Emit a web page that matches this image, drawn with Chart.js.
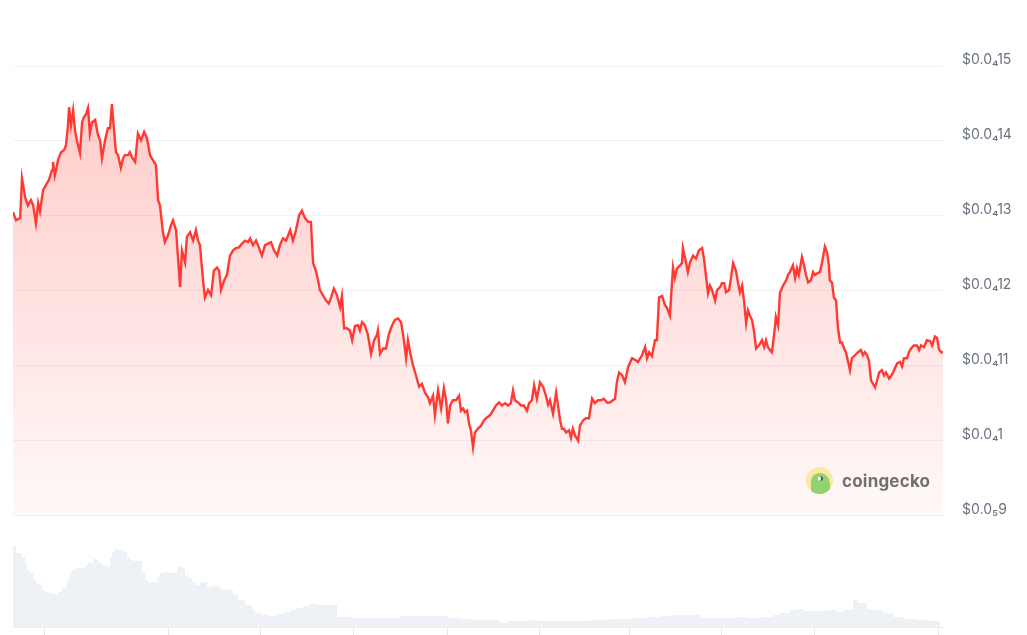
<!DOCTYPE html>
<html>
<head>
<meta charset="utf-8">
<script src="https://cdn.jsdelivr.net/npm/chart.js@4/dist/chart.umd.min.js"></script>
<style>
  body { margin: 0; background: #fff; }
  #wrap { position: relative; width: 1027px; height: 635px; overflow: hidden; }
  #priceChart { position: absolute; left: 0; top: 0; }
  #volChart { position: absolute; left: 0; top: 530px; }
  .logo { position: absolute; left: 806px; top: 467px; display: flex; align-items: center;
          font: 700 17px Inter, "Noto Sans", sans-serif; color: #707070; letter-spacing: 0.2px; }
  .gecko { position: relative; width: 27px; height: 27px; border-radius: 50%; background: #fbe9a3;
           margin-right: 9px; overflow: hidden; }
  .head { position: absolute; left: 5px; top: 6px; width: 19px; height: 24px; background: #8fd46d;
          border-radius: 9px 11px 2px 8px; }
  .eye { position: absolute; left: 12px; top: 9px; width: 5px; height: 5px; border-radius: 50%;
         background: #fff; box-shadow: inset -2px 0 0 #555; }
</style>
</head>
<body>
<div id="wrap">
  <canvas id="priceChart" width="1027" height="543"></canvas>
  <canvas id="volChart" width="1027" height="105"></canvas>
  <div class="logo"><span class="gecko"><span class="head"></span><span class="eye"></span></span>coingecko</div>
</div>
<script>
// price in millionths of a dollar, time in days from the start of the 30 day window
const priceDays = [
  0, 0.10, 0.23, 0.29, 0.39, 0.48, 0.58, 0.65, 0.74, 0.81,
  0.87, 0.97, 1.06, 1.16, 1.26, 1.29, 1.35, 1.45, 1.55, 1.65,
  1.71, 1.77, 1.81, 1.87, 1.94, 2.00, 2.06, 2.16, 2.23, 2.29,
  2.35, 2.42, 2.48, 2.55, 2.65, 2.74, 2.81, 2.87, 2.97, 3.06,
  3.13, 3.19, 3.26, 3.32, 3.39, 3.48, 3.55, 3.61, 3.71, 3.77,
  3.84, 3.94, 4.03, 4.13, 4.23, 4.32, 4.42, 4.52, 4.61, 4.68,
  4.74, 4.84, 4.90, 5.00, 5.10, 5.16, 5.26, 5.32, 5.39, 5.45,
  5.55, 5.61, 5.71, 5.81, 5.90, 5.97, 6.03, 6.13, 6.19, 6.29,
  6.39, 6.48, 6.58, 6.65, 6.71, 6.81, 6.90, 7.00, 7.10, 7.19,
  7.29, 7.39, 7.48, 7.58, 7.65, 7.74, 7.84, 7.90, 8.03, 8.13,
  8.23, 8.32, 8.42, 8.52, 8.61, 8.71, 8.81, 8.94, 9.03, 9.13,
  9.23, 9.32, 9.42, 9.52, 9.61, 9.68, 9.77, 9.84, 9.90, 10.00,
  10.10, 10.19, 10.26, 10.35, 10.45, 10.55, 10.61, 10.68, 10.77, 10.87,
  10.94, 11.03, 11.13, 11.19, 11.26, 11.35, 11.45, 11.55, 11.65, 11.74,
  11.77, 11.84, 11.94, 12.03, 12.13, 12.23, 12.32, 12.42, 12.52, 12.61,
  12.68, 12.74, 12.81, 12.90, 13.00, 13.10, 13.19, 13.29, 13.39, 13.45,
  13.55, 13.61, 13.71, 13.81, 13.90, 13.97, 14.03, 14.10, 14.19, 14.29,
  14.39, 14.45, 14.52, 14.58, 14.65, 14.71, 14.77, 14.84, 14.90, 15.00,
  15.10, 15.19, 15.29, 15.39, 15.48, 15.58, 15.68, 15.77, 15.87, 15.97,
  16.06, 16.13, 16.19, 16.29, 16.39, 16.48, 16.58, 16.65, 16.74, 16.81,
  16.90, 17.00, 17.10, 17.19, 17.26, 17.32, 17.42, 17.52, 17.58, 17.65,
  17.71, 17.77, 17.84, 17.94, 18.00, 18.06, 18.13, 18.23, 18.29, 18.39,
  18.48, 18.58, 18.68, 18.77, 18.87, 18.97, 19.06, 19.16, 19.26, 19.35,
  19.42, 19.48, 19.55, 19.65, 19.74, 19.84, 19.97, 20.10, 20.16, 20.29,
  20.39, 20.45, 20.52, 20.61, 20.71, 20.77, 20.84, 20.94, 21.03, 21.10,
  21.19, 21.29, 21.35, 21.42, 21.52, 21.58, 21.61, 21.71, 21.77, 21.84,
  21.94, 22.03, 22.13, 22.23, 22.29, 22.35, 22.42, 22.48, 22.55, 22.65,
  22.71, 22.81, 22.87, 22.94, 23.00, 23.10, 23.16, 23.23, 23.32, 23.39,
  23.45, 23.52, 23.58, 23.65, 23.71, 23.77, 23.84, 23.90, 23.97, 24.06,
  24.16, 24.23, 24.29, 24.35, 24.42, 24.48, 24.55, 24.61, 24.68, 24.74,
  24.84, 24.94, 25.00, 25.06, 25.16, 25.23, 25.29, 25.35, 25.45, 25.52,
  25.58, 25.65, 25.74, 25.81, 25.87, 25.97, 26.03, 26.10, 26.19, 26.26,
  26.32, 26.35, 26.42, 26.48, 26.55, 26.61, 26.68, 26.74, 26.81, 26.87,
  26.94, 27.00, 27.06, 27.16, 27.26, 27.35, 27.42, 27.48, 27.55, 27.61,
  27.68, 27.74, 27.81, 27.87, 27.94, 28.03, 28.10, 28.16, 28.26, 28.32,
  28.39, 28.45, 28.52, 28.61, 28.68, 28.74, 28.84, 28.90, 28.97, 29.06,
  29.16, 29.23, 29.29, 29.39, 29.48, 29.58, 29.65, 29.74, 29.81, 29.87,
  29.94, 30.00
];
const prices = [
  13.05, 12.94, 12.97, 13.50, 13.25, 13.14, 13.21, 13.14, 12.90, 13.17,
  13.06, 13.34, 13.41, 13.48, 13.61, 13.72, 13.54, 13.74, 13.85, 13.88,
  13.94, 14.19, 14.45, 14.21, 14.41, 14.14, 14.01, 13.84, 14.25, 14.32,
  14.35, 14.44, 14.10, 14.25, 14.28, 14.08, 14.01, 13.77, 14.01, 14.17,
  14.17, 14.49, 14.14, 13.85, 13.81, 13.64, 13.77, 13.81, 13.81, 13.85,
  13.78, 13.72, 14.10, 14.01, 14.12, 14.04, 13.81, 13.74, 13.68, 13.21,
  13.14, 12.77, 12.65, 12.74, 12.88, 12.94, 12.81, 12.46, 12.05, 12.54,
  12.38, 12.72, 12.78, 12.67, 12.81, 12.67, 12.61, 12.14, 11.91, 12.01,
  11.94, 12.27, 12.31, 12.27, 12.01, 12.14, 12.21, 12.47, 12.54, 12.57,
  12.58, 12.63, 12.67, 12.65, 12.70, 12.61, 12.67, 12.61, 12.47, 12.61,
  12.63, 12.65, 12.54, 12.47, 12.61, 12.70, 12.67, 12.81, 12.67, 12.81,
  13.01, 13.07, 12.97, 12.92, 12.92, 12.37, 12.27, 12.14, 12.01, 11.94,
  11.87, 11.83, 11.91, 12.03, 11.94, 11.78, 11.93, 11.50, 11.50, 11.47,
  11.34, 11.53, 11.54, 11.47, 11.58, 11.54, 11.41, 11.16, 11.34, 11.41,
  11.47, 11.16, 11.23, 11.23, 11.43, 11.54, 11.61, 11.63, 11.58, 11.34,
  11.10, 11.34, 11.18, 11.01, 10.87, 10.72, 10.76, 10.64, 10.58, 10.50,
  10.60, 10.34, 10.67, 10.43, 10.70, 10.54, 10.23, 10.47, 10.54, 10.54,
  10.60, 10.40, 10.43, 10.38, 10.40, 10.23, 10.14, 9.91, 10.11, 10.16,
  10.20, 10.27, 10.31, 10.34, 10.40, 10.47, 10.51, 10.47, 10.50, 10.47,
  10.50, 10.67, 10.54, 10.51, 10.47, 10.47, 10.40, 10.50, 10.54, 10.74,
  10.56, 10.78, 10.72, 10.60, 10.48, 10.54, 10.36, 10.64, 10.47, 10.27,
  10.16, 10.16, 10.11, 10.14, 10.04, 10.16, 10.07, 10.00, 10.20, 10.27,
  10.30, 10.30, 10.56, 10.50, 10.54, 10.54, 10.56, 10.51, 10.51, 10.54,
  10.56, 10.78, 10.91, 10.87, 10.78, 10.98, 11.10, 11.07, 11.05, 11.14,
  11.25, 11.10, 11.18, 11.13, 11.34, 11.34, 11.91, 11.93, 11.81, 11.77,
  11.67, 12.31, 12.17, 12.30, 12.34, 12.37, 12.57, 12.38, 12.25, 12.38,
  12.47, 12.43, 12.54, 12.57, 12.43, 12.21, 11.97, 12.07, 12.01, 11.87,
  12.01, 12.05, 12.10, 12.10, 11.98, 12.01, 12.17, 12.37, 12.27, 12.10,
  11.98, 12.07, 11.87, 11.57, 11.74, 11.67, 11.61, 11.47, 11.23, 11.27,
  11.34, 11.25, 11.34, 11.25, 11.21, 11.18, 11.41, 11.65, 11.54, 11.97,
  12.07, 12.14, 12.21, 12.25, 12.34, 12.17, 12.30, 12.21, 12.45, 12.34,
  12.21, 12.11, 12.14, 12.25, 12.21, 12.24, 12.25, 12.38, 12.59, 12.51,
  12.34, 12.14, 12.11, 11.91, 11.87, 11.51, 11.31, 11.31, 11.23, 11.18,
  11.05, 10.94, 11.10, 11.14, 11.18, 11.21, 11.14, 11.18, 11.14, 11.07,
  10.80, 10.76, 10.71, 10.80, 10.91, 10.94, 10.87, 10.91, 10.83, 10.86,
  10.91, 10.97, 11.03, 11.05, 10.99, 11.10, 11.10, 11.18, 11.23, 11.27,
  11.27, 11.21, 11.27, 11.25, 11.34, 11.33, 11.27, 11.39, 11.37, 11.22,
  11.18, 11.18
];
const priceTicks = [9, 10, 11, 12, 13, 14, 15];

// trading volume, relative units
const volumeDays = [
  0.00, 0.10, 0.29, 0.39, 0.45, 0.55, 0.65, 0.74, 0.81, 0.94,
  1.03, 1.13, 1.29, 1.45, 1.58, 1.74, 1.81, 1.90, 2.00, 2.16,
  2.32, 2.42, 2.58, 2.74, 2.87, 3.03, 3.13, 3.19, 3.29, 3.39,
  3.55, 3.68, 3.77, 3.87, 4.16, 4.26, 4.35, 4.48, 4.65, 4.74,
  4.90, 5.06, 5.29, 5.45, 5.55, 5.65, 5.77, 5.87, 6.03, 6.26,
  6.42, 6.68, 6.90, 7.10, 7.26, 7.48, 7.71, 7.81, 8.03, 8.23,
  8.52, 8.71, 8.94, 9.16, 9.35, 9.58, 9.81, 10.45, 10.48, 10.97,
  11.19, 12.48, 13.45, 14.00, 14.42, 14.84, 15.16, 15.71, 15.94, 16.68,
  16.90, 18.61, 19.26, 20.00, 20.45, 20.87, 21.29, 21.58, 22.16, 22.71,
  23.35, 23.68, 24.10, 24.52, 24.74, 25.06, 25.29, 25.48, 25.94, 26.26,
  26.58, 26.77, 27.10, 27.23, 27.55, 27.71, 28.06, 28.39, 28.71, 29.16,
  29.58, 29.90
];
const volumes = [
  84, 81, 74, 70, 64, 57, 54, 47, 44, 42,
  37, 35, 34, 33, 35, 39, 47, 54, 57, 59,
  59, 62, 64, 68, 64, 62, 60, 69, 75, 78,
  77, 75, 69, 67, 66, 54, 47, 44, 45, 50,
  54, 55, 54, 60, 59, 52, 49, 45, 42, 45,
  40, 41, 38, 37, 32, 27, 22, 17, 14, 12,
  11, 13, 15, 17, 19, 21, 23, 22, 11, 10,
  9, 9, 11, 11, 9, 8, 7, 7, 4, 6,
  7, 6, 7, 8, 9, 10, 11, 12, 12, 9,
  9, 10, 9, 10, 12, 14, 17, 18, 16, 16,
  17, 15, 17, 27, 24, 18, 17, 14, 10, 8,
  7, 6
];
const timeTicks = [1, 5, 7.97, 10.97, 14, 16.97, 19.9, 22.87, 25.84, 29.84];

// $0.0₄15 style: count of zeros after "0.0" written as a subscript
function fmtPrice(v) {
  const s = (v * 1e-6).toFixed(12).replace(/0+$/, '');
  const dec = s.split('.')[1];
  const zeros = dec.match(/^0*/)[0].length;
  const sub = '₀₁₂₃₄₅₆₇₈₉';
  return '$0.0' + String(zeros).split('').map(d => sub[d]).join('') + dec.slice(zeros);
}

new Chart(document.getElementById('priceChart'), {
  type: 'line',
  data: {
    datasets: [{
      data: priceDays.map((d, i) => ({ x: d, y: prices[i] })),
      borderColor: '#ff3a33',
      borderWidth: 2.4,
      pointRadius: 0,
      tension: 0,
      fill: 'start',
      backgroundColor: (ctx) => {
        const area = ctx.chart.chartArea;
        if (!area) return 'rgba(255,58,51,0.15)';
        const g = ctx.chart.ctx.createLinearGradient(0, area.top, 0, area.bottom);
        g.addColorStop(0, 'rgba(255,58,51,0.28)');
        g.addColorStop(1, 'rgba(255,58,51,0.03)');
        return g;
      }
    }]
  },
  options: {
    responsive: false,
    animation: false,
    layout: { padding: { left: 13, top: 66, bottom: 2 } },
    plugins: { legend: { display: false }, tooltip: { enabled: false } },
    scales: {
      x: { type: 'linear', min: 0, max: 30, display: false },
      y: {
        position: 'right',
        min: 9,
        max: 15,
        afterBuildTicks: axis => { axis.ticks = priceTicks.map(v => ({ value: v })); },
        afterFit: axis => { axis.width = 84; },
        grid: { color: '#f0f1f4', drawTicks: false },
        border: { display: false },
        ticks: {
          padding: 19,
          labelOffset: -6,
          color: '#6b7280',
          font: { family: 'Inter', size: 14 },
          callback: v => fmtPrice(v)
        }
      }
    }
  }
});

new Chart(document.getElementById('volChart'), {
  type: 'line',
  data: {
    datasets: [{
      data: volumeDays.map((d, i) => ({ x: d, y: volumes[i] })),
      stepped: 'after',
      fill: 'origin',
      backgroundColor: '#eef1f5',
      borderWidth: 0,
      pointRadius: 0
    }]
  },
  options: {
    responsive: false,
    animation: false,
    layout: { padding: { left: 13, right: 84, top: 13 } },
    plugins: { legend: { display: false }, tooltip: { enabled: false } },
    scales: {
      x: {
        type: 'linear',
        min: 0,
        max: 30,
        afterBuildTicks: axis => { axis.ticks = timeTicks.map(v => ({ value: v })); },
        grid: { drawOnChartArea: false, drawTicks: true, tickLength: 8, color: '#e3e6eb' },
        border: { display: true, color: '#eceef2' },
        ticks: { display: false }
      },
      y: { display: false, min: 0, max: 84 }
    }
  }
});
</script>
</body>
</html>
